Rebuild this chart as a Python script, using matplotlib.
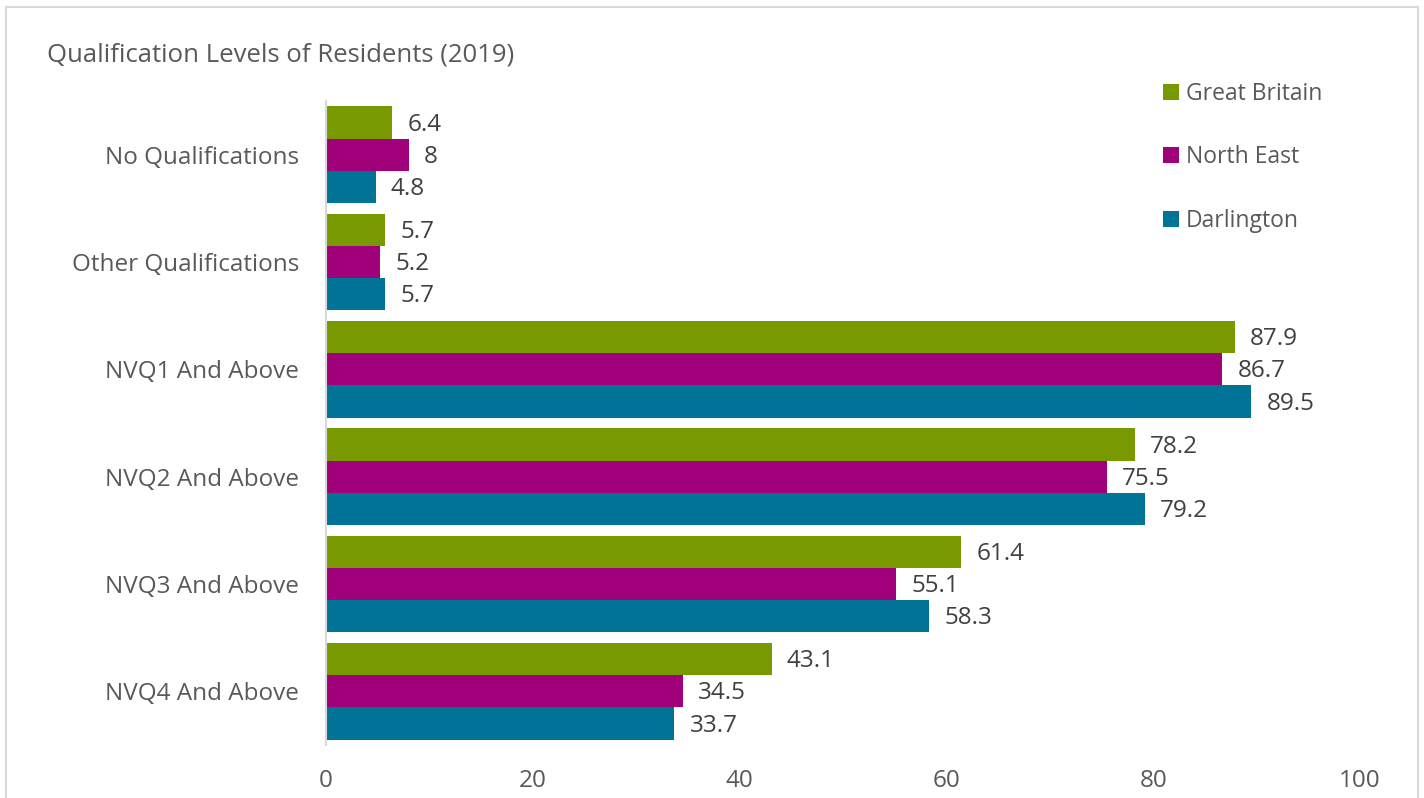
import numpy as np
import matplotlib.pyplot as plt
from matplotlib.patches import Rectangle

# %% data
categories = ['No Qualifications', 'Other Qualifications', 'NVQ1 And Above',
              'NVQ2 And Above', 'NVQ3 And Above', 'NVQ4 And Above']
series_names = ['Great Britain', 'North East', 'Darlington']
great_britain = [6.4, 5.7, 87.9, 78.2, 61.4, 43.1]
north_east = [8, 5.2, 86.7, 75.5, 55.1, 34.5]
darlington = [4.8, 5.7, 89.5, 79.2, 58.3, 33.7]
xticks = [0, 20, 40, 60, 80, 100]

colours = ['#789A00', '#A0007A', '#007396']
txt_col = '#595959'

plt.rcParams['font.family'] = ['Open Sans', 'DejaVu Sans']

fig = plt.figure(figsize=(14.24, 7.98), dpi=100)
ax = fig.add_axes([326/1424, 1-745/798, (1360-326)/1424, (745-101)/798])

# outer border of the chart area
fig.patches.append(Rectangle((6/1424, -0.05), (1418-6)/1424, 1.05 - 7/798,
                             transform=fig.transFigure, fill=False,
                             edgecolor='#d9d9d9', linewidth=1.5))

y = np.arange(len(categories))
h = 0.3
allvals = [great_britain, north_east, darlington]
for i in range(3):
    pos = y - h + i*h
    ax.barh(pos, allvals[i], height=h, color=colours[i], label=series_names[i])
    for p, v in zip(pos, allvals[i]):
        ax.annotate(str(v), (v, p), xytext=(11, -1.5), textcoords='offset points',
                    va='center', ha='left', fontsize=17.5, color='#404040')

ax.set_xlim(0, 100)
ax.set_ylim(5.5, -0.5)
ax.set_yticks(y)
ax.set_yticklabels(categories)
ax.set_xticks(xticks)
ax.tick_params(axis='both', length=0, labelsize=17.5, colors=txt_col)
ax.tick_params(axis='x', pad=17)
ax.tick_params(axis='y', pad=19.5)
for s in ['top', 'right', 'bottom']:
    ax.spines[s].set_visible(False)
ax.spines['left'].set_color('#d9d9d9')
ax.spines['left'].set_linewidth(1.5)

fig.text(47/1424, 1-55/798, 'Qualification Levels of Residents (2019)',
         fontsize=18.5, color=txt_col, va='center', ha='left')

leg = fig.legend(loc='upper left', bbox_to_anchor=(1163/1424, 1-82/798),
                 frameon=False, fontsize=16.5, handlelength=0.7, handleheight=0.7,
                 handletextpad=0.3, labelspacing=1.72, labelcolor=txt_col,
                 borderpad=0, borderaxespad=0)

fig.savefig('out.png', dpi=100)
